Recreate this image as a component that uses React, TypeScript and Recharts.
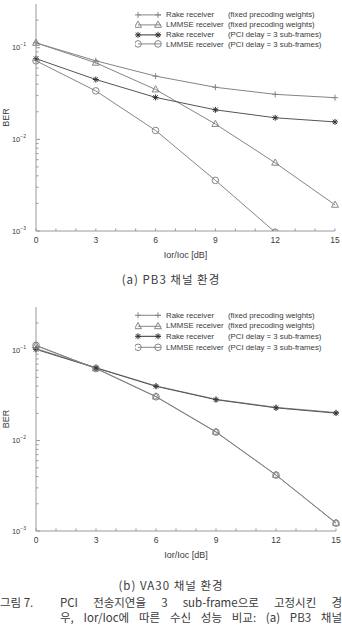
import React from "react";
import { LineChart, Line, XAxis, YAxis, Legend } from "recharts";

// Ior/Ioc [dB] sample points
const snrDb = [0, 3, 6, 9, 12, 15];

// (a) PB3 channel
const pb3RakeFixed = [0.113, 0.072, 0.049, 0.037, 0.031, 0.0285];
const pb3LmmseFixed = [0.113, 0.0685, 0.035, 0.0147, 0.00555, 0.00193];
const pb3RakePci = [0.076, 0.045, 0.0287, 0.021, 0.0172, 0.0155];
const pb3LmmsePci = [0.072, 0.0338, 0.0125, 0.00357, 0.00097, null];

// (b) VA30 channel
const va30RakeFixed = [0.104, 0.064, 0.0402, 0.0286, 0.0233, 0.0204];
const va30LmmseFixed = [0.112, 0.063, 0.0307, 0.0125, 0.00417, 0.00123];
const va30RakePci = [0.102, 0.0635, 0.0398, 0.0283, 0.023, 0.0201];
const va30LmmsePci = [0.113, 0.0625, 0.0305, 0.0124, 0.00415, 0.00122];

const seriesNames = [
  "Rake receiver (fixed precoding weights)",
  "LMMSE receiver (fixed precoding weights)",
  "Rake receiver (PCI delay = 3 sub-frames)",
  "LMMSE receiver (PCI delay = 3 sub-frames)",
];
const seriesKeys = ["rakeFixed", "lmmseFixed", "rakePci", "lmmsePci"];
const seriesShapes: Record<string, string> = {
  rakeFixed: "plus",
  lmmseFixed: "triangle",
  rakePci: "star",
  lmmsePci: "circle",
};

const xTicks = [0, 1, 2, 3, 4, 5, 6, 7, 8, 9, 10, 11, 12, 13, 14, 15];
const xLabelTicks = [0, 3, 6, 9, 12, 15];
const yTicks = [
  0.001, 0.002, 0.003, 0.004, 0.005, 0.006, 0.007, 0.008, 0.009,
  0.01, 0.02, 0.03, 0.04, 0.05, 0.06, 0.07, 0.08, 0.09,
  0.1, 0.2,
];
const yMajor = [0.001, 0.01, 0.1];

const FONT = "'Liberation Sans', Arial, sans-serif";
const KFONT = "'Noto Sans CJK KR', 'Liberation Sans', sans-serif";
const LINE = "#858585";
const FRAME = "#9a9a9a";
const TEXT = "#3a3a3a";

function Marker({ shape, cx, cy, color }: any) {
  if (cx == null || cy == null || isNaN(cy)) return <g />;
  if (shape === "plus") {
    return (
      <path d={`M${cx - 3},${cy}H${cx + 3}M${cx},${cy - 3}V${cy + 3}`} stroke={color} strokeWidth={1} fill="none" />
    );
  }
  if (shape === "triangle") {
    return (
      <path d={`M${cx},${cy - 3.8}L${cx + 3.5},${cy + 2.4}L${cx - 3.5},${cy + 2.4}Z`} stroke={color} strokeWidth={1} fill="none" />
    );
  }
  if (shape === "star") {
    return (
      <path
        d={`M${cx - 3},${cy}H${cx + 3}M${cx},${cy - 3}V${cy + 3}M${cx - 2.2},${cy - 2.2}L${cx + 2.2},${cy + 2.2}M${cx - 2.2},${cy + 2.2}L${cx + 2.2},${cy - 2.2}`}
        stroke="#333"
        strokeWidth={1}
        fill="none"
      />
    );
  }
  return <circle cx={cx} cy={cy} r={3.3} stroke={color} strokeWidth={1} fill="none" />;
}

function XTick({ x, y, payload, side }: any) {
  const v = payload.value;
  const dir = side === "top" ? 1 : -1;
  return (
    <g>
      <line x1={x} x2={x} y1={y} y2={y + dir * 2.5} stroke={FRAME} />
      {side === "bottom" && xLabelTicks.includes(v) && (
        <text x={x} y={y + 9} textAnchor="middle" dominantBaseline="central" fontSize={8.5} fill={TEXT} fontFamily={FONT}>
          {v}
        </text>
      )}
    </g>
  );
}

function YTick({ x, y, payload, side }: any) {
  const v = payload.value;
  const major = yMajor.some((m) => Math.abs(m - v) < 1e-9);
  const dir = side === "left" ? 1 : -1;
  const exp = Math.round(Math.log10(v));
  return (
    <g>
      <line x1={x} x2={x + dir * (major ? 4 : 2.5)} y1={y} y2={y} stroke={FRAME} />
      {side === "left" && major && (
        <text x={x - 10} y={y + 2.5} textAnchor="end" fontSize={7.5} fill={TEXT} fontFamily={FONT}>
          10
          <tspan dy={-3.8} fontSize={5}>
            {"\u2212" + Math.abs(exp)}
          </tspan>
        </text>
      )}
    </g>
  );
}

function LegendBox({ payload, rowH }: any) {
  const items = [...(payload || [])].sort(
    (a: any, b: any) => seriesKeys.indexOf(a.dataKey) - seriesKeys.indexOf(b.dataKey)
  );
  return (
    <div style={{ fontFamily: FONT, fontSize: 7.8, color: TEXT }}>
      {items.map((entry: any) => {
        const shape = seriesShapes[entry.dataKey];
        const idx = entry.value.indexOf(" (");
        const first = entry.value.slice(0, idx);
        const second = entry.value.slice(idx + 1);
        const mid = rowH / 2;
        return (
          <div key={entry.dataKey} style={{ display: "flex", alignItems: "center", height: rowH, whiteSpace: "pre" }}>
            <svg width={31} height={rowH} style={{ display: "block" }}>
              <line x1={3} x2={26} y1={mid} y2={mid} stroke={shape === "star" ? "#333" : LINE} />
              <Marker shape={shape} cx={3} cy={mid} color={LINE} />
              <Marker shape={shape} cx={23} cy={mid} color={LINE} />
            </svg>
            <span style={{ width: 62, display: "inline-block" }}>{first}</span>
            <span>{second}</span>
          </div>
        );
      })}
    </div>
  );
}

function BerChart({ series, marginTop, marginRight, legendTop, rowH }: any) {
  const data = snrDb.map((x, i) => ({
    x,
    rakeFixed: series[0][i],
    lmmseFixed: series[1][i],
    rakePci: series[2][i],
    lmmsePci: series[3][i],
  }));
  return (
    <LineChart width={342} height={262} data={data} margin={{ top: marginTop, right: marginRight, bottom: 0, left: 0 }}>
      <XAxis
        dataKey="x"
        type="number"
        domain={[0, 15]}
        ticks={xTicks}
        interval={0}
        height={31}
        tickSize={0}
        tickMargin={0}
        stroke={FRAME}
        tick={(p: any) => <XTick {...p} side="bottom" />}
        label={{ value: "Ior/Ioc [dB]", position: "insideBottom", offset: 4, fontSize: 9, fill: TEXT, fontFamily: FONT }}
      />
      <XAxis
        xAxisId="top"
        orientation="top"
        dataKey="x"
        type="number"
        domain={[0, 15]}
        ticks={xTicks}
        interval={0}
        height={0}
        tickSize={0}
        tickMargin={0}
        stroke={FRAME}
        tick={(p: any) => <XTick {...p} side="top" />}
      />
      <YAxis
        type="number"
        scale="log"
        domain={[0.001, 0.3]}
        allowDataOverflow
        ticks={yTicks}
        interval={0}
        width={36}
        tickSize={0}
        tickMargin={0}
        stroke={FRAME}
        tick={(p: any) => <YTick {...p} side="left" />}
        label={{ value: "BER", angle: -90, position: "insideLeft", offset: 6, fontSize: 9, fill: TEXT, fontFamily: FONT, style: { textAnchor: "middle" } }}
      />
      <YAxis
        yAxisId="right"
        orientation="right"
        type="number"
        scale="log"
        domain={[0.001, 0.3]}
        allowDataOverflow
        ticks={yTicks}
        interval={0}
        width={0}
        tickSize={0}
        tickMargin={0}
        stroke={FRAME}
        tick={(p: any) => <YTick {...p} side="right" />}
      />
      <Legend
        layout="vertical"
        align="center"
        verticalAlign="middle"
        wrapperStyle={{ left: 135, top: legendTop, width: "auto" }}
        content={(p: any) => <LegendBox payload={p.payload} rowH={rowH} />}
      />
      {seriesKeys.map((k, i) => (
        <Line
          key={k}
          dataKey={k}
          name={seriesNames[i]}
          stroke={k === "rakePci" ? "#555" : LINE}
          strokeWidth={1}
          isAnimationActive={false}
          connectNulls={false}
          dot={(p: any) => <Marker key={p.key ?? `${k}-${p.index}`} shape={seriesShapes[k]} cx={p.cx} cy={p.cy} color={LINE} />}
          activeDot={false}
        />
      ))}
    </LineChart>
  );
}

export default function App() {
  return (
    <div style={{ position: "absolute", left: 0, top: 0, width: 342, height: 637, background: "#fff", overflow: "hidden" }}>
      <div style={{ position: "absolute", left: 0, top: 0 }}>
        <BerChart
          series={[pb3RakeFixed, pb3LmmseFixed, pb3RakePci, pb3LmmsePci]}
          marginTop={4}
          marginRight={7}
          legendTop={10}
          rowH={9.8}
        />
      </div>
      <div style={{ position: "absolute", left: 0, top: 271, width: 342, textAlign: "center", fontFamily: KFONT, fontSize: 11.5, color: TEXT, letterSpacing: 1 }}>
        (a) PB3 채널 환경
      </div>
      <div style={{ position: "absolute", left: 0, top: 300 }}>
        <BerChart
          series={[va30RakeFixed, va30LmmseFixed, va30RakePci, va30LmmsePci]}
          marginTop={7}
          marginRight={6}
          legendTop={10}
          rowH={10.6}
        />
      </div>
      <div style={{ position: "absolute", left: 0, top: 577, width: 342, textAlign: "center", fontFamily: KFONT, fontSize: 11.5, color: TEXT, letterSpacing: 1 }}>
        (b) VA30 채널 환경
      </div>
      <div style={{ position: "absolute", left: 0, top: 595, fontFamily: KFONT, fontSize: 11.5, color: TEXT, lineHeight: "15px" }}>
        그림 7.
      </div>
      <div style={{ position: "absolute", left: 60, top: 595, width: 282, fontFamily: KFONT, fontSize: 11.5, color: TEXT, lineHeight: "15px" }}>
        <div style={{ textAlign: "justify", textAlignLast: "justify" }}>PCI 전송지연을 3 sub-frame으로 고정시킨 경</div>
        <div style={{ textAlign: "justify", textAlignLast: "justify" }}>우, Ior/Ioc에 따른 수신 성능 비교: (a) PB3 채널</div>
      </div>
    </div>
  );
}
